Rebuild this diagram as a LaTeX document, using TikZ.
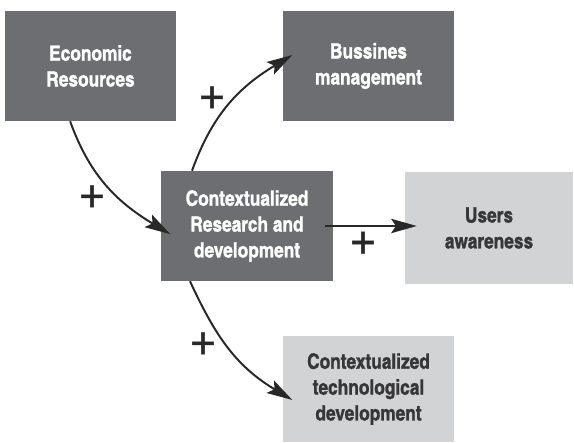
\documentclass[tikz,border=0pt]{standalone}
\usepackage{fontspec}
\setmainfont{TeX Gyre Heros}
\newfontfamily\condbold{texgyreheroscn-bold.otf}[FakeBold=1.2]
\newfontfamily\plusfont{TeX Gyre Heros}[FakeBold=1]
\usetikzlibrary{arrows.meta}
\definecolor{boxdark}{RGB}{109,110,114}
\definecolor{boxlight}{RGB}{210,211,213}
\definecolor{inkgray}{RGB}{55,55,58}
\definecolor{arrowgray}{RGB}{40,40,40}
\begin{document}
\begin{tikzpicture}[
	darkbox/.style = {fill=boxdark, text=white, minimum width=4.275cm, minimum height=2.75cm, align=center, font=\condbold\fontsize{15}{18.4}\selectfont},
	lightbox/.style = {darkbox, fill=boxlight, text=inkgray},
	arr/.style = {line width=1.4pt, draw=arrowgray, -{Stealth[length=6.4mm, width=3.6mm, inset=1.2mm]}, shorten >=-2.8mm},
	plus/.style = {font=\plusfont\fontsize{34}{34}\selectfont, text=arrowgray}
]
	\useasboundingbox (0,0) rectangle (14.35,11.05);

	\node [darkbox] (econ) at (2.2625,9.4) {Economic\\Resources};
	\node [darkbox] (bus) at (9.2125,9.4) {Bussines\\management};
	\node [darkbox, minimum width=4.3cm] (crd) at (6.175,5.4) {Contextualized\\Research and\\development};
	\node [lightbox, minimum width=4.2cm, minimum height=2.8cm] (users) at (12.225,5.35) {Users\\awareness};
	\node [lightbox, minimum height=2.65cm] (ctd) at (9.2125,1.325) {Contextualized\\technological\\development};

	\draw [arr] ([xshift=-5.1mm]econ.south) to[out=-70, in=149] ([yshift=-0.6mm]crd.west);
	\draw [arr] ([xshift=-13.75mm]crd.north) to[out=70, in=-149] ([yshift=1.3mm]bus.west);
	\draw [arr, shorten <=-2mm, shorten >=-3mm] (crd.east) -- (crd.east -| users.west);
	\draw [arr] ([xshift=-14.25mm]crd.south) to[out=-65, in=149] ([yshift=-1.3mm]ctd.west);

	\node [plus] (p1) at (5.3,8.6) {+};
	\node [plus] (p2) at (2.3,6.125) {+};
	\node [plus] (p3) at (9.075,4.97) {+};
	\node [plus] (p4) at (5.075,2.45) {+};
\end{tikzpicture}
\end{document}
